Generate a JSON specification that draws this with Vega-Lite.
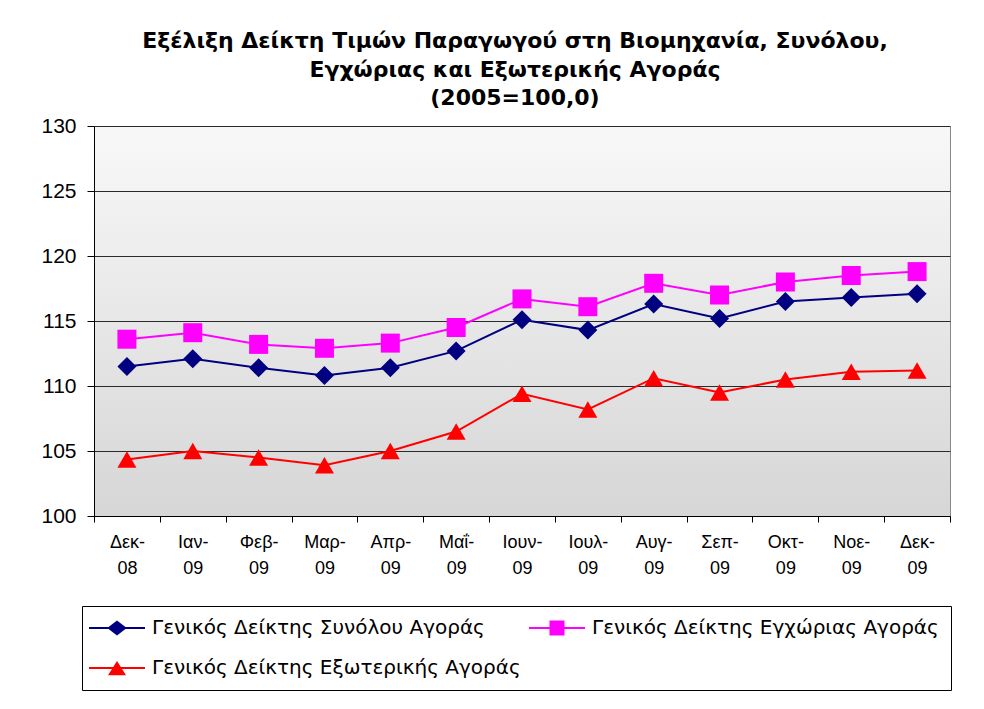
{
  "$schema": "https://vega.github.io/schema/vega-lite/v6.json",
  "width": 856,
  "height": 390,
  "autosize": {"type": "none"},
  "padding": {"left": 94, "top": 126, "right": 34, "bottom": 193},
  "background": "white",
  "title": {
    "text": ["Εξέλιξη Δείκτη Τιμών Παραγωγού στη Βιομηχανία, Συνόλου,", "Εγχώριας και Εξωτερικής Αγοράς", "(2005=100,0)"],
    "font": "DejaVu Sans",
    "fontSize": 22,
    "fontWeight": "bold",
    "color": "black",
    "lineHeight": 28.5,
    "anchor": "middle",
    "dx": -7,
    "offset": 5
  },
  "data": {
    "values": [
      {"month": "Δεκ-08", "series": "Γενικός Δείκτης Συνόλου Αγοράς", "value": 111.5},
      {"month": "Ιαν-09", "series": "Γενικός Δείκτης Συνόλου Αγοράς", "value": 112.1},
      {"month": "Φεβ-09", "series": "Γενικός Δείκτης Συνόλου Αγοράς", "value": 111.4},
      {"month": "Μαρ-09", "series": "Γενικός Δείκτης Συνόλου Αγοράς", "value": 110.8},
      {"month": "Απρ-09", "series": "Γενικός Δείκτης Συνόλου Αγοράς", "value": 111.4},
      {"month": "Μαΐ-09", "series": "Γενικός Δείκτης Συνόλου Αγοράς", "value": 112.7},
      {"month": "Ιουν-09", "series": "Γενικός Δείκτης Συνόλου Αγοράς", "value": 115.1},
      {"month": "Ιουλ-09", "series": "Γενικός Δείκτης Συνόλου Αγοράς", "value": 114.3},
      {"month": "Αυγ-09", "series": "Γενικός Δείκτης Συνόλου Αγοράς", "value": 116.3},
      {"month": "Σεπ-09", "series": "Γενικός Δείκτης Συνόλου Αγοράς", "value": 115.2},
      {"month": "Οκτ-09", "series": "Γενικός Δείκτης Συνόλου Αγοράς", "value": 116.5},
      {"month": "Νοε-09", "series": "Γενικός Δείκτης Συνόλου Αγοράς", "value": 116.8},
      {"month": "Δεκ-09", "series": "Γενικός Δείκτης Συνόλου Αγοράς", "value": 117.1},
      {"month": "Δεκ-08", "series": "Γενικός Δείκτης Εγχώριας Αγοράς", "value": 113.6},
      {"month": "Ιαν-09", "series": "Γενικός Δείκτης Εγχώριας Αγοράς", "value": 114.1},
      {"month": "Φεβ-09", "series": "Γενικός Δείκτης Εγχώριας Αγοράς", "value": 113.2},
      {"month": "Μαρ-09", "series": "Γενικός Δείκτης Εγχώριας Αγοράς", "value": 112.9},
      {"month": "Απρ-09", "series": "Γενικός Δείκτης Εγχώριας Αγοράς", "value": 113.3},
      {"month": "Μαΐ-09", "series": "Γενικός Δείκτης Εγχώριας Αγοράς", "value": 114.5},
      {"month": "Ιουν-09", "series": "Γενικός Δείκτης Εγχώριας Αγοράς", "value": 116.7},
      {"month": "Ιουλ-09", "series": "Γενικός Δείκτης Εγχώριας Αγοράς", "value": 116.1},
      {"month": "Αυγ-09", "series": "Γενικός Δείκτης Εγχώριας Αγοράς", "value": 117.9},
      {"month": "Σεπ-09", "series": "Γενικός Δείκτης Εγχώριας Αγοράς", "value": 117.0},
      {"month": "Οκτ-09", "series": "Γενικός Δείκτης Εγχώριας Αγοράς", "value": 118.0},
      {"month": "Νοε-09", "series": "Γενικός Δείκτης Εγχώριας Αγοράς", "value": 118.5},
      {"month": "Δεκ-09", "series": "Γενικός Δείκτης Εγχώριας Αγοράς", "value": 118.8},
      {"month": "Δεκ-08", "series": "Γενικός Δείκτης Εξωτερικής Αγοράς", "value": 104.35},
      {"month": "Ιαν-09", "series": "Γενικός Δείκτης Εξωτερικής Αγοράς", "value": 105.0},
      {"month": "Φεβ-09", "series": "Γενικός Δείκτης Εξωτερικής Αγοράς", "value": 104.5},
      {"month": "Μαρ-09", "series": "Γενικός Δείκτης Εξωτερικής Αγοράς", "value": 103.9},
      {"month": "Απρ-09", "series": "Γενικός Δείκτης Εξωτερικής Αγοράς", "value": 105.0},
      {"month": "Μαΐ-09", "series": "Γενικός Δείκτης Εξωτερικής Αγοράς", "value": 106.5},
      {"month": "Ιουν-09", "series": "Γενικός Δείκτης Εξωτερικής Αγοράς", "value": 109.4},
      {"month": "Ιουλ-09", "series": "Γενικός Δείκτης Εξωτερικής Αγοράς", "value": 108.2},
      {"month": "Αυγ-09", "series": "Γενικός Δείκτης Εξωτερικής Αγοράς", "value": 110.6},
      {"month": "Σεπ-09", "series": "Γενικός Δείκτης Εξωτερικής Αγοράς", "value": 109.5},
      {"month": "Οκτ-09", "series": "Γενικός Δείκτης Εξωτερικής Αγοράς", "value": 110.5},
      {"month": "Νοε-09", "series": "Γενικός Δείκτης Εξωτερικής Αγοράς", "value": 111.1},
      {"month": "Δεκ-09", "series": "Γενικός Δείκτης Εξωτερικής Αγοράς", "value": 111.2}
    ]
  },
  "encoding": {
    "x": {
      "field": "month",
      "type": "ordinal",
      "sort": null,
      "scale": {"type": "band", "paddingInner": 0, "paddingOuter": 0},
      "axis": {
        "title": null,
        "labelAngle": 0,
        "labelFont": "Liberation Sans",
        "labelFontSize": 18,
        "labelColor": "black",
        "labelExpr": "datum.label ? [split(datum.label, '-')[0] + '-', split(datum.label, '-')[1]] : ''",
        "labelLineHeight": 26,
        "labelPadding": 11,
        "tickBand": "extent",
        "tickSize": 6,
        "tickColor": "black",
        "domainColor": "black",
        "domainWidth": 1,
        "grid": false
      }
    },
    "y": {
      "field": "value",
      "type": "quantitative",
      "scale": {"domain": [100, 130], "nice": false, "zero": false},
      "axis": {
        "title": null,
        "values": [100, 105, 110, 115, 120, 125, 130],
        "labelFont": "Liberation Sans",
        "labelFontSize": 21,
        "labelColor": "black",
        "labelPadding": 11,
        "tickSize": 7,
        "tickColor": "black",
        "domainColor": "black",
        "grid": true,
        "gridColor": "#2a2a2a",
        "gridWidth": 1
      }
    }
  },
  "layer": [
    {
      "mark": {"type": "line", "strokeWidth": 2},
      "encoding": {
        "color": {
          "field": "series", "type": "nominal", "legend": null,
          "scale": {"domain": ["Γενικός Δείκτης Συνόλου Αγοράς", "Γενικός Δείκτης Εγχώριας Αγοράς", "Γενικός Δείκτης Εξωτερικής Αγοράς"], "range": ["#000080", "#FF00FF", "#FF0000"]}
        }
      }
    },
    {
      "mark": {"type": "point", "filled": true, "opacity": 1, "strokeWidth": 0},
      "encoding": {
        "color": {
          "field": "series", "type": "nominal", "legend": null,
          "scale": {"domain": ["Γενικός Δείκτης Συνόλου Αγοράς", "Γενικός Δείκτης Εγχώριας Αγοράς", "Γενικός Δείκτης Εξωτερικής Αγοράς"], "range": ["#000080", "#FF00FF", "#FF0000"]}
        },
        "shape": {
          "field": "series", "type": "nominal", "legend": null,
          "scale": {"domain": ["Γενικός Δείκτης Συνόλου Αγοράς", "Γενικός Δείκτης Εγχώριας Αγοράς", "Γενικός Δείκτης Εξωτερικής Αγοράς"], "range": ["diamond", "square", "triangle-up"]}
        },
        "size": {
          "field": "series", "type": "nominal", "legend": null,
          "scale": {"domain": ["Γενικός Δείκτης Συνόλου Αγοράς", "Γενικός Δείκτης Εγχώριας Αγοράς", "Γενικός Δείκτης Εξωτερικής Αγοράς"], "range": [361, 361, 441]}
        }
      }
    },
    {
      "transform": [{"filter": "false"}],
      "mark": {"type": "point", "filled": true, "opacity": 1, "strokeWidth": 0},
      "encoding": {
        "color": {
          "field": "series", "type": "nominal", "title": null,
          "scale": {"domain": ["Γενικός Δείκτης Συνόλου Αγοράς", "Γενικός Δείκτης Εγχώριας Αγοράς", "Γενικός Δείκτης Εξωτερικής Αγοράς"], "range": ["#000080", "#FF00FF", "#FF0000"]}
        },
        "shape": {
          "field": "series", "type": "nominal", "title": null,
          "scale": {"domain": ["Γενικός Δείκτης Συνόλου Αγοράς", "Γενικός Δείκτης Εγχώριας Αγοράς", "Γενικός Δείκτης Εξωτερικής Αγοράς"], "range": [
            "M-3.73,-0.14H3.73V0.14H-3.73Z M-1.3,0L0,-1L1.3,0L0,1Z",
            "M-3.73,-0.14H3.73V0.14H-3.73Z M-1,-1H1V1H-1Z",
            "M-3.73,-0.14H3.73V0.14H-3.73Z M0,-0.95L1.2,0.95H-1.2Z"
          ]}
        }
      }
    }
  ],
  "resolve": {"scale": {"color": "independent", "shape": "independent"}},
  "config": {
    "view": {
      "stroke": "#888888",
      "fill": {
        "gradient": "linear", "x1": 0, "y1": 0, "x2": 0, "y2": 1,
        "stops": [{"offset": 0, "color": "#f8f8f8"}, {"offset": 1, "color": "#d6d6d6"}]
      }
    },
    "legend": {
      "orient": "none",
      "legendX": -12,
      "legendY": 480,
      "columns": 2,
      "direction": "horizontal",
      "strokeColor": "black",
      "strokeWidth": 1,
      "fillColor": "white",
      "padding": 12,
      "labelFont": "DejaVu Sans",
      "labelFontSize": 20,
      "labelColor": "black",
      "labelLimit": 0,
      "symbolSize": 225,
      "symbolOpacity": 1,
      "symbolStrokeWidth": 0,
      "symbolOffset": 13,
      "labelOffset": 25,
      "rowPadding": 20,
      "columnPadding": 8
    }
  }
}
